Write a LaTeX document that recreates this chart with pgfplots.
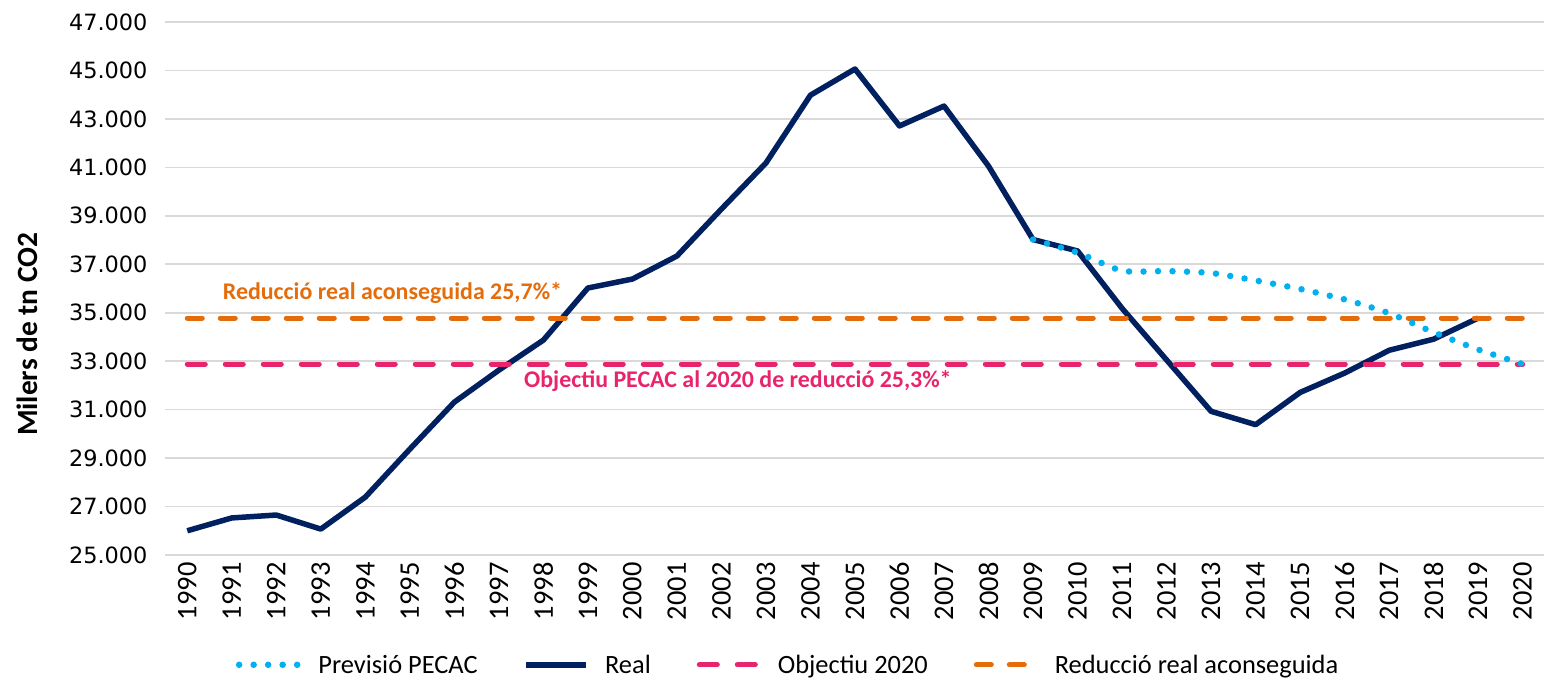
\documentclass[border=0pt]{standalone}
\usepackage{fontspec}
\setmainfont{Carlito}
\newfontfamily\dejavu{DejaVu Sans}
\usepackage{pgfplots}
\pgfplotsset{compat=1.18}
\definecolor{realc}{HTML}{002060}
\definecolor{pecac}{HTML}{00B0F0}
\definecolor{pinkc}{HTML}{E8246C}
\definecolor{orangec}{HTML}{E46C0A}
\definecolor{gridc}{HTML}{D9D9D9}
\begin{document}
\begin{tikzpicture}
\path[use as bounding box] (0,0) rectangle (1544bp,680bp);
\begin{axis}[
  at={(165bp,125bp)}, anchor=south west,
  scale only axis, width=1380bp, height=533bp,
  xmin=1989.5, xmax=2020.5, ymin=25000, ymax=47000,
  xtick={1990,...,2020}, ytick={25000,27000,...,47000},
  scaled y ticks=false,
  ymajorgrids, major grid style={gridc, line width=1.6bp},
  axis line style={draw=none}, tick style={draw=none},
  x tick label style={rotate=90, anchor=east, font=\fontsize{28.5}{28.5}\selectfont,
     /pgf/number format/1000 sep={}, /pgf/number format/assume math mode=true},
  y tick label style={font=\dejavu\fontsize{22.5}{22.5}\selectfont,
     /pgf/number format/1000 sep={.}, /pgf/number format/assume math mode=true},
  xticklabel shift=4bp, yticklabel shift=14bp,
  ylabel={Milers de tn CO2},
  every axis y label/.style={at={(axis description cs:-0.1,0.414)}, rotate=90, anchor=center,
     font=\bfseries\fontsize{29.5}{29.5}\selectfont},
  legend columns=4,
  legend style={at={(axis description cs:0.4515,-0.206)}, anchor=center, draw=none,
     font=\fontsize{26.5}{26.5}\selectfont,
     /tikz/every odd column/.append style={column sep=14bp},
     /tikz/every even column/.append style={column sep=44bp}},
  legend image code/.code={\draw[#1] (0bp,0bp) -- (60bp,0bp);},
]
\addlegendimage{pecac, line width=6.5bp, line cap=round, dash pattern=on 0bp off 14.5bp}
\addlegendentry{Previsió PECAC}
\addlegendimage{realc, line width=5.5bp}
\addlegendentry{Real}
\addlegendimage{pinkc, line width=5bp, line cap=round, dash pattern=on 18bp off 20bp}
\addlegendentry{Objectiu 2020}
\addlegendimage{orangec, line width=5bp, line cap=round, dash pattern=on 15bp off 18bp}
\addlegendentry{Reducció real aconseguida}

\addplot[forget plot, realc, line width=5.5bp, line join=round] coordinates {
(1990,26000)(1991,26530)(1992,26650)(1993,26070)(1994,27390)(1995,29370)
(1996,31310)(1997,32630)(1998,33870)(1999,36020)(2000,36390)(2001,37340)
(2002,39280)(2003,41180)(2004,43980)(2005,45060)(2006,42710)(2007,43530)
(2008,41050)(2009,38020)(2010,37550)(2011,35180)(2012,33050)(2013,30930)
(2014,30380)(2015,31710)(2016,32510)(2017,33450)(2018,33910)(2019,34780)};

\addplot[forget plot, orangec, line width=5bp, line cap=round, dash pattern=on 15bp off 18bp] coordinates {
(1990,34780)(2020,34780)};
\addplot[forget plot, pinkc, line width=5bp, line cap=round, dash pattern=on 18bp off 20bp] coordinates {
(1990,32880)(2020,32880)};

\addplot[forget plot, pecac, line width=6.5bp, line cap=round, dash pattern=on 0bp off 14.5bp, smooth, tension=0.35] coordinates {
(2009,38020)(2010,37480)(2011,36730)(2012,36720)(2013,36640)(2014,36330)
(2015,35980)(2016,35550)(2017,34980)(2018,34190)(2019,33480)(2020,32880)};

\node[font=\bfseries\fontsize{24}{24}\selectfont, text=orangec] at (axis cs:1994.61,35810) {Reducció real aconseguida 25,7\%*};
\node[font=\bfseries\fontsize{24}{24}\selectfont, text=pinkc] at (axis cs:2002.37,32180) {Objectiu PECAC al 2020 de reducció 25,3\%*};
\end{axis}
\end{tikzpicture}
\end{document}
